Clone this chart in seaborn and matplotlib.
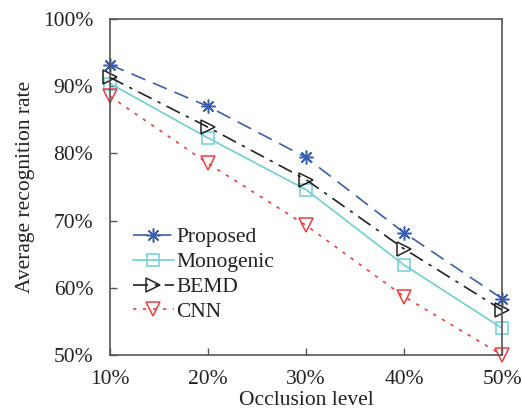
import matplotlib
matplotlib.use("Agg")
import matplotlib.pyplot as plt
import seaborn as sns
import pandas as pd
from matplotlib.ticker import FuncFormatter

occlusion = [10, 20, 30, 40, 50]
proposed = [93.2, 87.0, 79.4, 68.2, 58.4]
monogenic = [90.4, 82.3, 74.6, 63.4, 54.0]
bemd = [91.3, 83.9, 76.1, 65.8, 56.7]
cnn = [88.5, 78.5, 69.3, 58.7, 50.0]

series_names = ["Proposed", "Monogenic", "BEMD", "CNN"]
series_vals = [proposed, monogenic, bemd, cnn]

sns.set_theme(style="white")
plt.rcParams["font.family"] = ["Liberation Serif", "DejaVu Serif"]

fig = plt.figure(figsize=(5.22, 4.15), dpi=100)
ax = fig.add_axes([0.2107, 0.1446, 0.7510, 0.8096])

styles = {
    "Proposed": dict(color="#3a5fb0", marker=(8, 2, 0), ls=(0, (9, 5)), mfc="#3a5fb0", ms=10),
    "Monogenic": dict(color="#6ccfd6", marker="s", ls="-", mfc="none", ms=8),
    "BEMD": dict(color="#222222", marker=">", ls=(0, (9, 4, 2, 4)), mfc="none", ms=10),
    "CNN": dict(color="#f03c3c", marker="v", ls=(0, (2, 4)), mfc="none", ms=10),
}

for name, vals in zip(series_names, series_vals):
    df = pd.DataFrame({"x": occlusion, "y": vals})
    st = styles[name]
    sns.lineplot(data=df, x="x", y="y", ax=ax, color=st["color"], marker=st["marker"],
                 linestyle=st["ls"], markerfacecolor=st["mfc"], markeredgecolor=st["color"],
                 markersize=st["ms"], markeredgewidth=1.1, linewidth=1.2, label=name,
                 clip_on=False)

ax.set_xlim(10, 50)
ax.set_ylim(50, 100)
ax.set_xticks(occlusion)
ax.set_yticks([50, 60, 70, 80, 90, 100])
pct = FuncFormatter(lambda v, p: f"{int(v)}%")
ax.xaxis.set_major_formatter(pct)
ax.yaxis.set_major_formatter(pct)
ax.tick_params(direction="in", length=5, width=1, color="#555555", labelsize=15.5,
               labelcolor="#222222")
ax.tick_params(axis="x", pad=11)
ax.tick_params(axis="y", pad=12)
ax.tick_params(bottom=True, left=True)
for s in ax.spines.values():
    s.set_visible(True)
    s.set_color("#555555")
    s.set_linewidth(1.2)

ax.set_xlabel("Occlusion level", fontsize=15.5, color="#222222", labelpad=1)
ax.set_ylabel("Average recognition rate", fontsize=15.5, color="#222222", labelpad=6)

leg = ax.legend(loc="lower left", bbox_to_anchor=(0.025, 0.06), frameon=False,
                fontsize=15.5, handlelength=1.9, handletextpad=0.12, labelspacing=0.22,
                borderaxespad=0.2)
for t in leg.get_texts():
    t.set_color("#222222")

fig.savefig("out.png", dpi=100)
